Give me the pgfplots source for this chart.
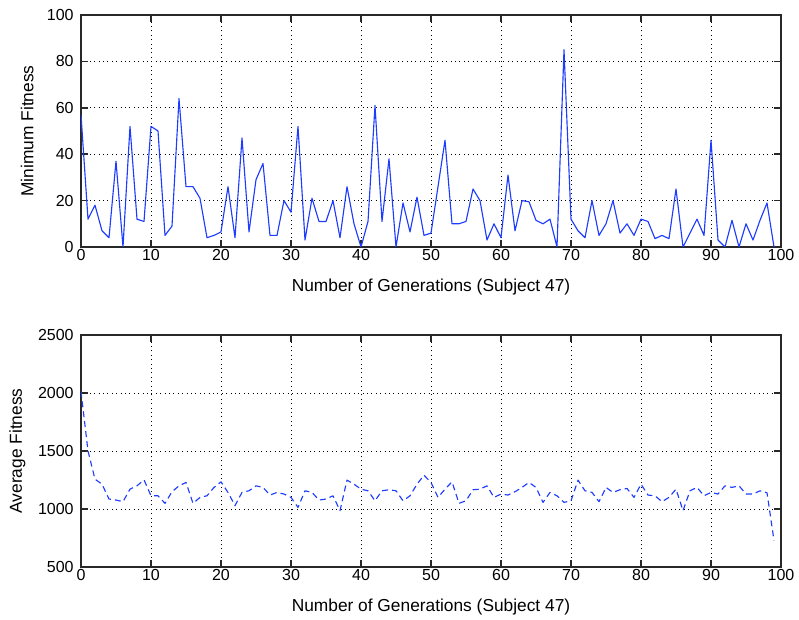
\documentclass[border=0pt]{standalone}
\usepackage{fontspec}
\setmainfont{Liberation Sans}
\usepackage{pgfplots}
\pgfplotsset{compat=1.18}

\definecolor{lineblue}{RGB}{30,60,255}
\definecolor{axgray}{RGB}{40,40,40}

% minimum fitness per generation
\pgfplotstableread{
gen minfit
0 57
1 12
2 18
3 7
4 4
5 37
6 0
7 52
8 12
9 11
10 52
11 50
12 5
13 9
14 64
15 26
16 26
17 21
18 4
19 5
20 6.5
21 26
22 4
23 47
24 6.5
25 29
26 36
27 5
28 5
29 20
30 15
31 52
32 3
33 21
34 11
35 11
36 20
37 4
38 26
39 10
40 0
41 11
42 61
43 11
44 38
45 0
46 19
47 6.5
48 21.5
49 5
50 6
51 26
52 46
53 10
54 10
55 11
56 25
57 20
58 3
59 10
60 4
61 31
62 7
63 20
64 19.5
65 11.5
66 10
67 12
68 0
69 85
70 12
71 7
72 4
73 20
74 5
75 10
76 20
77 6
78 10
79 5
80 12
81 11
82 3.6
83 5
84 3.6
85 25
86 0
87 6
88 12
89 5
90 46
91 3
92 0
93 11.5
94 0
95 10
96 3
97 11.5
98 19
99 0
}\minfit

% average fitness per generation
\pgfplotstableread{
gen avgfit
0 2014
1 1500
2 1257
3 1214
4 1086
5 1077
6 1063
7 1171
8 1200
9 1251
10 1114
11 1114
12 1049
13 1149
14 1200
15 1229
16 1049
17 1100
18 1114
19 1186
20 1234
21 1143
22 1029
23 1143
24 1157
25 1200
26 1186
27 1120
28 1143
29 1129
30 1100
31 1014
32 1157
33 1143
34 1077
35 1086
36 1114
37 986
38 1249
39 1214
40 1171
41 1157
42 1071
43 1157
44 1166
45 1157
46 1071
47 1114
48 1214
49 1291
50 1229
51 1100
52 1171
53 1234
54 1049
55 1071
56 1166
57 1171
58 1200
59 1100
60 1129
61 1120
62 1149
63 1186
64 1229
65 1186
66 1057
67 1143
68 1114
69 1057
70 1071
71 1249
72 1157
73 1143
74 1063
75 1186
76 1143
77 1166
78 1177
79 1100
80 1214
81 1120
82 1114
83 1063
84 1100
85 1171
86 986
87 1157
88 1186
89 1114
90 1143
91 1129
92 1200
93 1186
94 1200
95 1129
96 1129
97 1157
98 1140
99 729
}\avgfit

\pgfplotsset{
  genaxis/.style={
    scale only axis, width=525pt, height=174pt,
    xmin=0, xmax=100, xtick={0,10,...,100},
    grid=major,
    major grid style={black, line width=0.7pt, dash pattern=on 0.7pt off 2.6pt},
    axis line style={axgray, line width=1.1pt},
    tick style={axgray, line width=1.1pt},
    tick align=inside, major tick length=5pt,
    xtick pos=both, ytick pos=both,
    ticklabel style={font=\fontsize{12}{14}\selectfont},
    /pgf/number format/assume math mode=true,
    /pgf/number format/1000 sep={},
    xticklabel style={yshift=2pt},
    yticklabel style={xshift=-2pt},
    xlabel={Number of Generations (Subject 47)},
    xlabel style={font=\fontsize{13}{15}\selectfont,
      at={(axis description cs:0.5,-0.172)}, anchor=center},
    ylabel style={font=\fontsize{13}{15}\selectfont, anchor=center},
  }
}

\begin{document}
\begin{tikzpicture}
\useasboundingbox (0,0) rectangle (599.25pt,-465pt);

\begin{axis}[genaxis,
  at={(60.75pt,-11.25pt)}, anchor=north west,
  ymin=0, ymax=100, ytick={0,20,...,100},
  ylabel={Minimum Fitness},
  ylabel style={at={(axis description cs:-0.077,0.5)}},
]
\addplot[lineblue, line width=0.85pt, line join=round] table[x=gen, y=minfit] {\minfit};
\end{axis}

\begin{axis}[genaxis,
  at={(60.75pt,-251.25pt)}, anchor=north west,
  ymin=500, ymax=2500, ytick={500,1000,...,2500},
  ylabel={Average Fitness},
  ylabel style={at={(axis description cs:-0.091,0.5)}},
]
\addplot[lineblue, line width=0.85pt, line join=round, dash pattern=on 4.5pt off 3pt] table[x=gen, y=avgfit] {\avgfit};
\end{axis}
\end{tikzpicture}
\end{document}
